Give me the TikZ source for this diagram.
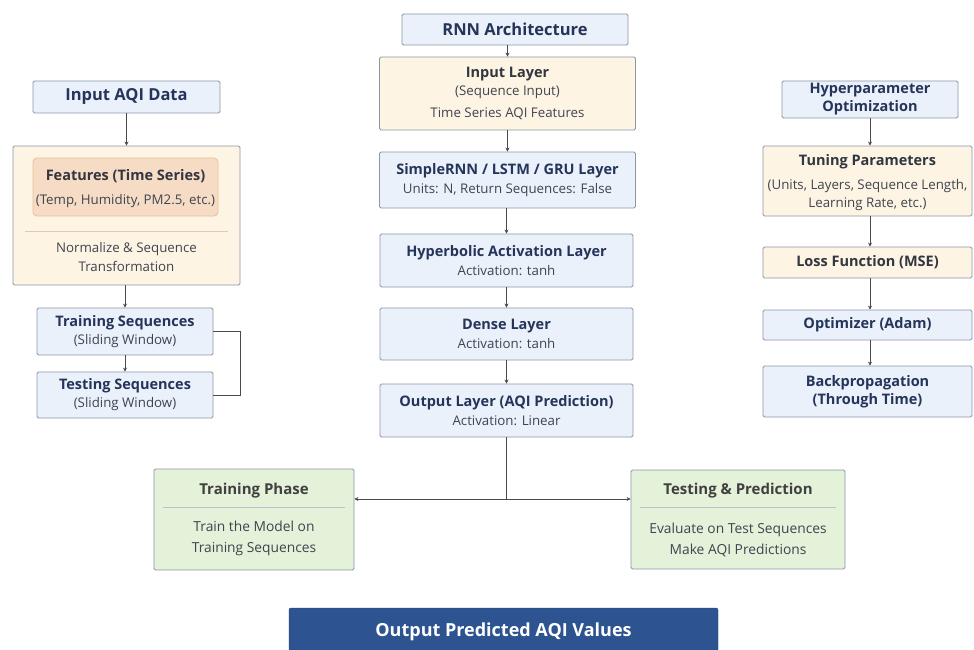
\documentclass[tikz,border=0pt]{standalone}
\usepackage{fontspec}
\setmainfont{Open Sans}
\usetikzlibrary{arrows.meta}
\definecolor{bluefill}{HTML}{EAF1FB}
\definecolor{creamfill}{HTML}{FDF4E3}
\definecolor{peachfill}{HTML}{F6DCC5}
\definecolor{greenfill}{HTML}{E4F2D9}
\definecolor{edgegray}{HTML}{8C97A6}
\definecolor{navy}{HTML}{25355A}
\definecolor{bodytext}{HTML}{3E4450}
\definecolor{darkblue}{HTML}{2D5390}
\definecolor{linegray}{HTML}{4A4A4A}
\tikzset{
  base/.style={draw=edgegray, line width=0.8pt, rounded corners=1.5pt, align=center, inner sep=0pt, text=bodytext, font=\fontsize{13.3}{19}\selectfont},
  bluebox/.style={base, fill=bluefill},
  creambox/.style={base, fill=creamfill},
  greenbox/.style={base, fill=greenfill},
  peachbox/.style={base, fill=peachfill, draw=peachfill!70!brown, rounded corners=4pt},
  plaintext/.style={align=center, inner sep=0pt, text=bodytext, font=\fontsize{13.3}{19}\selectfont},
  conn/.style={draw=linegray, line width=0.9pt},
  arr/.style={conn, -{Stealth[length=4pt,width=4pt]}},
}
\newcommand{\tl}[1]{{\bfseries\fontsize{14.5}{19}\selectfont\color{navy}#1}}
\newcommand{\hd}[1]{{\bfseries\fontsize{16.5}{19}\selectfont\color{navy}#1}}
\begin{document}
\begin{tikzpicture}[x=1pt,y=-1pt]
\useasboundingbox (0,0) rectangle (974,650);
\fill[white] (0,0) rectangle (974,650);

% ---------- left column ----------
\node[bluebox, minimum width=187, minimum height=32] (inp) at (126.5,97) {\hd{Input AQI Data}};
\node[creambox, minimum width=227, minimum height=139] (prep) at (126.5,215.5) {};
\node[peachbox, minimum width=185, minimum height=58] (feat) at (125.5,187) {};
\node[plaintext] (featT) at (125.5,189) {\tl{\color{bodytext!80!black}Features (Time Series)}\\[5pt](Temp, Humidity, PM2.5, etc.)};
\draw[draw=peachfill!80!gray, line width=0.6pt] (25,231) -- (228,231);
\node[plaintext] (norm) at (126.5,257.5) {Normalize \& Sequence\\Transformation};
\node[bluebox, minimum width=176, minimum height=47] (train) at (125,331.5) {\tl{Training Sequences}\\[-1pt](Sliding Window)};
\node[bluebox, minimum width=176, minimum height=46] (test) at (125,395) {\tl{Testing Sequences}\\[-1pt](Sliding Window)};
\draw[arr] (inp.south) -- (prep.north);
\draw[arr] (prep.south -| train.north) -- (train.north);
\draw[arr] (train.south) -- (test.north);
\draw[conn] (train.east) -- ++(27,0) |- (test.east);

% ---------- center column ----------
\node[bluebox, minimum width=226, minimum height=31] (rnn) at (515,29.5) {\hd{RNN Architecture}};
\node[creambox, minimum width=256, minimum height=73] (il) at (507.5,93.5) {\tl{\color{bodytext!80!black}Input Layer}\\[-1pt](Sequence Input)\\[3pt]Time Series AQI Features};
\node[bluebox, minimum width=256, minimum height=56] (rl) at (507.5,180) {\tl{SimpleRNN / LSTM / GRU Layer}\\Units: N, Return Sequences: False};
\node[bluebox, minimum width=253, minimum height=53] (hl) at (506.5,260.5) {\tl{Hyperbolic Activation Layer}\\Activation: tanh};
\node[bluebox, minimum width=253, minimum height=52] (dl) at (506.5,334) {\tl{Dense Layer}\\Activation: tanh};
\node[bluebox, minimum width=253, minimum height=53] (ol) at (506.5,410.5) {\tl{Output Layer (AQI Prediction)}\\Activation: Linear};
\draw[arr] (rnn.south -| il.north) -- (il.north);
\draw[arr] (il.south) -- (rl.north -| il.south);
\draw[arr] (rl.south -| hl.north) -- (hl.north);
\draw[arr] (hl.south) -- (dl.north);
\draw[arr] (dl.south) -- (ol.north);

% ---------- right column ----------
\node[bluebox, minimum width=176, minimum height=37] (hp) at (870,99.5) {\tl{Hyperparameter}\\[-1pt]\tl{Optimization}};
\node[creambox, minimum width=209, minimum height=70] (tp) at (867.5,181) {};
\node[plaintext] (tpT) at (867.5,183) {\tl{\color{bodytext!80!black}Tuning Parameters}\\[5pt](Units, Layers, Sequence Length,\\[-1pt]Learning Rate, etc.)};
\node[creambox, minimum width=209, minimum height=31] (lf) at (867.5,262.5) {\tl{\color{bodytext!80!black}Loss Function (MSE)}};
\node[bluebox, minimum width=209, minimum height=30] (opt) at (867.5,325) {\tl{Optimizer (Adam)}};
\node[bluebox, minimum width=209, minimum height=51] (bp) at (867.5,391.5) {\tl{Backpropagation}\\[-1pt]\tl{(Through Time)}};
\draw[arr] (hp.south) -- (tp.north -| hp.south);
\draw[arr] (tp.south -| hp.south) -- (lf.north -| hp.south);
\draw[arr] (lf.south -| hp.south) -- (opt.north -| hp.south);
\draw[arr] (opt.south -| hp.south) -- (bp.north -| hp.south);

% ---------- bottom ----------
\node[greenbox, minimum width=200, minimum height=101] (tph) at (254,519.5) {};
\node[font=\bfseries\fontsize{15}{18}\selectfont, text=black!75] (tphT) at (254,491) {Training Phase};
\draw[draw=edgegray!60, line width=0.6pt] (163,507) -- (345,507);
\node[align=center, text=bodytext, font=\fontsize{13.8}{21}\selectfont] (tphB) at (254,538.5) {Train the Model on\\Training Sequences};

\node[greenbox, minimum width=214, minimum height=99] (tsp) at (738,519.5) {};
\node[font=\bfseries\fontsize{15}{18}\selectfont, text=black!75] (tspT) at (738,491) {Testing \& Prediction};
\draw[draw=edgegray!60, line width=0.6pt] (640,507) -- (836,507);
\node[align=center, text=bodytext, font=\fontsize{13.8}{21}\selectfont] (tspB) at (738,539.5) {Evaluate on Test Sequences\\Make AQI Predictions};

\coordinate (split) at (506.5,499);
\draw[conn] (ol.south) -- (split);
\draw[arr] (split) -- (split -| tph.east);
\draw[arr] (split) -- (split -| tsp.west);

\node[fill=darkblue, draw=darkblue!80!black, rounded corners=2pt, minimum width=429, minimum height=48, text=white, font=\bfseries\fontsize{18}{20}\selectfont] (final) at (503.5,632) {Output Predicted AQI Values};
\end{tikzpicture}
\end{document}
